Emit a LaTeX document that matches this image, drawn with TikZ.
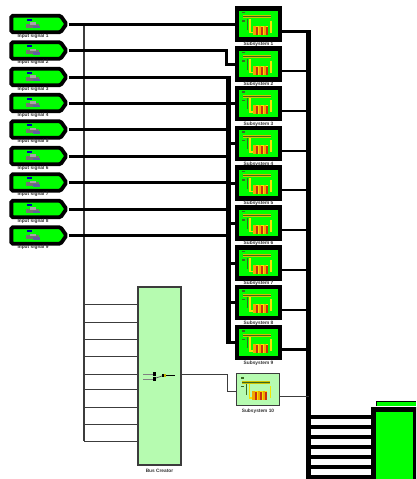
\documentclass[tikz,border=0pt]{standalone}
\usepackage{fontspec}
\setmainfont{Liberation Sans}
\usetikzlibrary{shapes.symbols}
\definecolor{pgreen}{HTML}{00FF00}
\definecolor{lgreen}{HTML}{B6FBB0}
\definecolor{wireg}{HTML}{3C3C3C}
\definecolor{iorange}{HTML}{F0A800}
\definecolor{iyellow}{HTML}{F4E400}
\definecolor{ired}{HTML}{C83010}
\definecolor{idark}{HTML}{3A6A20}
\tikzset{
 x=1pt,y=-1pt,
 portbox/.style={shape=signal,signal to=east,signal from=nowhere,signal pointer angle=110,draw=black,fill=pgreen,line width=3.8pt,rounded corners=1.5pt,minimum width=55pt,minimum height=16.5pt,inner sep=0pt},
 blockbox/.style={draw=black,fill=pgreen,line width=4.5pt,minimum width=43pt,minimum height=31pt,inner sep=0pt},
 lightbox/.style={draw=wireg,fill=lgreen,line width=1.2pt,minimum width=43pt,minimum height=32pt,inner sep=0pt},
 tallbox/.style={draw=wireg,fill=lgreen,line width=1.2pt,minimum width=43pt,minimum height=178pt,inner sep=0pt},
 bigbox/.style={draw=black,fill=pgreen,line width=4.5pt,minimum width=42pt,minimum height=90pt,inner sep=0pt,anchor=north west},
 thickw/.style={draw=black,line width=3pt},
 busw/.style={draw=black,line width=5pt},
 thinw/.style={draw=wireg,line width=1pt},
 vthin/.style={draw=wireg,line width=1.5pt},
 tiny lab/.style={font=\fontsize{4.8}{6}\selectfont\bfseries,text=black!80,inner sep=0pt},
 pics/ic/.style={code={
   \fill[iyellow!85!black] (-16,-9.5) rectangle (12,-6.5);
   \draw[idark,line width=.6pt] (-16,-8) -- (12,-8);
   \fill[idark] (-17,-13) rectangle (-14,-11.5);
   \fill[idark] (-17,-4.5) rectangle (-14,-3);
   \draw[idark,line width=1pt] (-11.5,-6) -- (-11.5,5);
   \draw[iyellow,line width=1.3pt] (-8.5,-6) -- (-8.5,8) -- (-5,8);
   \draw[iyellow,line width=1.5pt] (12.5,-4) -- (12.5,8);
   \fill[iyellow] (-6,1) rectangle (9,10);
   \fill[ired] (-3,2) rectangle (-1,10);
   \fill[ired] (2,2) rectangle (4,10);
   \fill[ired] (7,2) rectangle (9,10);
   \fill[iorange] (-6,1) rectangle (-3,10);
   \fill[iorange] (0,1) rectangle (2,10);
   \fill[iorange] (5,1) rectangle (7,10);
 }},
 pics/pi/.style={code={
   \fill[blue!70!black] (-5,-6) rectangle (0,-4);
   \fill[black!55] (-6,-1) rectangle (7,3);
   \fill[black!35] (-2,-2.5) rectangle (4,0);
   \fill[blue!25!gray] (1,1) rectangle (8,3.5);
 }}
}
\begin{document}
\begin{tikzpicture}
\clip (0,0) rectangle (416,479);
\fill[white] (0,0) rectangle (416,479);
% coordinates
\coordinate (bus) at (308.5,31);
\coordinate (busend) at (308.5,479);
\coordinate (vgray) at (84,24);
\coordinate (vgrayend) at (84,441);
% wires under
\draw[vthin] (vgray) -- (vgrayend);
% ports
\foreach \i/\y in {1/24,2/50.5,3/77,4/103,5/129.5,6/156,7/182.5,8/209,9/235.5}{
  \node[portbox] (p\i) at (36,\y) {};
  \pic at (32,\y+0.5) {pi};
  \node[tiny lab] (pl\i) at (33,\y+12) {Input signal \i};
}
% blocks
\foreach \i/\y in {1/24,2/64,3/103.5,4/143.5,5/183,6/223,7/263,8/302.5,9/342.5}{
  \node[blockbox] (b\i) at (258.5,\y) {};
  \pic at (258.5,\y+0.5) {ic};
  \node[tiny lab] (bl\i) at (258.5,\y+20.5) {Subsystem \i};
}
% port wires
\draw[thickw] (p1.east) -- (b1.west);
\draw[thickw] (p2.east) -- (226,50.5) |- (b2.west);
\foreach \i/\y in {3/77,4/103,5/129.5,6/156,7/182.5,8/209,9/235.5}{
  \draw[thickw] (p\i.east) -- (228,\y) |- (b\i.west);
}
% double-wire trunk
\draw[draw=black,line width=5pt] (228,75.5) -- (228,344);
% right bus
\draw[busw,line cap=butt] (bus) -- (busend);
\draw[line width=3pt] ([yshift=-7pt]b1.east) -- (311,31);
\foreach \i in {2,...,8}{
  \draw[draw=black,line width=2pt] ([yshift=-7pt]b\i.east) -- ([yshift=-7pt]b\i.east -| bus);
}
\draw[draw=black,line width=3pt] ([yshift=-7pt]b9.east) -- ([yshift=-7pt]b9.east -| bus);
% lower left
\node[tallbox] (t) at (159.5,376) {};
\node[tiny lab] (tl) at (159.5,471) {Bus Creator};
\foreach \y in {304,322,339,356,374,389,407,424,441}{
  \draw[thinw] (84,\y) -- (t.west |- 0,\y);
}
\draw[gray,line width=1pt] (143,374) -- (155,374);
\draw[gray,line width=1pt] (143,379) -- (155,379);
\fill[black] (153,372) rectangle (156,376);
\fill[black] (153,377) rectangle (156,381);
\draw[gray!70!black,line width=.7pt] (156,378) -- (162,376);
\fill[black] (162,374) rectangle (165,377);
\fill[iyellow!80!black] (164,374) rectangle (166,377);
\draw[black,line width=1pt] (166,375.5) -- (175,375.5);
% light block
\node[lightbox] (lb) at (258,389.5) {};
\pic at (258,390) {ic};
\node[tiny lab] (lbl) at (258,411) {Subsystem 10};
\draw[thinw] (t.east |- 0,374) -- (227,374) -- (227,391) -- (lb.west |- 0,391);
\draw[thinw] (lb.east |- 0,396) -- (bus |- 0,396);
% big block
\fill[pgreen] (376,401) rectangle (416,406);
\draw[black,line width=.7pt] (376,401) -- (416,401);
\draw[black,line width=.7pt] (376,401) -- (376,406);
\node[bigbox] (big) at (371.2,407.2) {};
\foreach \y in {417,427,437,447,457,467,477}{
  \draw[draw=black,line width=3.5pt] (bus |- 0,\y) -- (big.west |- 0,\y);
}
\end{tikzpicture}
\end{document}
